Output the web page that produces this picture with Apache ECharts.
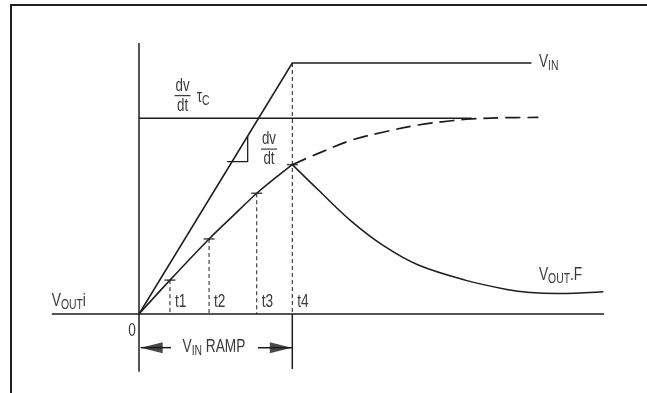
<!DOCTYPE html>
<html>
<head>
<meta charset="utf-8">
<script src="https://cdn.jsdelivr.net/npm/echarts@6/dist/echarts.min.js"></script>
<style>
  html, body { margin: 0; padding: 0; background: #fff; }
  #chart { width: 647px; height: 393px; }
</style>
</head>
<body>
<div id="chart"></div>
<script>
// time in units where the ramp ends at t4 = 10, voltage in units where VIN = 10
const tickLabels = ['t1', 't2', 't3', 't4'];
const tickTimes = [2.02, 4.57, 7.68, 10];
const tickVout = [1.35, 2.99, 4.81, 5.95];

const vinT = [0, 10, 25.6];
const vinV = [0, 10, 10];

const riseT = [0, 2.02, 4.57, 6.2, 7.68, 8.87, 10];
const riseV = [0, 1.35, 2.99, 3.95, 4.81, 5.41, 5.95];

const decayT = [10, 11.7, 13.88, 16.05, 18.22, 21.27, 23.99, 25.51, 27.25, 28.77, 30.29];
const decayV = [5.95, 4.94, 3.68, 2.68, 1.95, 1.35, 0.98, 0.86, 0.82, 0.84, 0.89];

const limitT = [10, 11.7, 13.88, 16.05, 18.22, 20.4, 21.7, 23.66, 26.05];
const limitV = [5.95, 6.4, 6.93, 7.26, 7.53, 7.7, 7.77, 7.82, 7.83];

const tauLevel = 7.8;
const tauEnd = 21.7;

const slopeT = [5.75, 7.09, 7.09];
const slopeV = [6.07, 6.07, 7.09];

const xAxisSpan = [-5.69, 30.33];
const yAxisSpan = [10.8, -2.3];
const rampEndDrop = -2.19;
const rampArrowV = -1.34;
const rampArrowLeft = [0.11, 2.09];
const rampArrowRight = [7.76, 9.97];

// layout: where t=0,v=0 sits and how many pixels one unit takes
const OX = 139, OY = 314, PX_T = 15.33, PX_V = 25.1;
const X_MIN = -9, X_MAX = 33, Y_MIN = -3, Y_MAX = 12.5;
const W = 647, H = 393;

const INK = '#1c1c1c';
const TEXT = '#3a3a3a';
const FONT = '"Liberation Sans", Arial, sans-serif';
const NARROW = 0.74; // condensed look of the original lettering
const BIG = 18.5, SMALL = 14;

function zip(a, b) {
  return a.map((v, i) => [v, b[i]]);
}

function solid(data, extra) {
  return Object.assign({
    type: 'line',
    data: data,
    symbol: 'none',
    lineStyle: { color: INK, width: 1.5 },
    silent: true
  }, extra || {});
}

let chart = echarts.init(document.getElementById('chart'));

let series = [
  // axes
  solid([[xAxisSpan[0], 0], [xAxisSpan[1], 0]]),
  solid([[0, yAxisSpan[0]], [0, yAxisSpan[1]]]),
  solid([[10, 0], [10, rampEndDrop]]),
  // dv/dt tau_C level
  solid([[0, tauLevel], [tauEnd, tauLevel]]),
  // VIN
  solid(zip(vinT, vinV)),
  // slope triangle
  solid(zip(slopeT, slopeV), { lineStyle: { color: INK, width: 1.3 } }),
  // VOUT during ramp
  solid(zip(riseT, riseV), { smooth: 0.3 }),
  // VOUT.F decay
  solid(zip(decayT, decayV), { smooth: 0.35 }),
  // dashed continuation
  solid(zip(limitT, limitV), {
    smooth: 0.35,
    lineStyle: { color: INK, width: 1.7, type: [15, 7] }
  }),
  // tick marks on the curve
  {
    type: 'scatter',
    data: zip(tickTimes, tickVout),
    symbol: 'rect',
    symbolSize: [11, 1.5],
    itemStyle: { color: INK },
    silent: true
  },
  // VIN RAMP arrows
  solid([[rampArrowLeft[0], rampArrowV], [rampArrowLeft[1], rampArrowV]]),
  solid([[rampArrowRight[0], rampArrowV], [rampArrowRight[1], rampArrowV]]),
  {
    type: 'scatter',
    silent: true,
    itemStyle: { color: INK },
    data: [
      { value: [rampArrowLeft[0], rampArrowV], symbol: 'path://M0,5L20,0L20,10Z', symbolOffset: [11, 0] },
      { value: [rampArrowRight[1], rampArrowV], symbol: 'path://M0,0L20,5L0,10Z', symbolOffset: [-11, 0] }
    ],
    symbolSize: [22, 11],
    symbolKeepAspect: false
  }
];

// dashed drop lines from each tick to the time axis, t4 from VIN top
tickTimes.forEach((t, i) => {
  let top = i === tickTimes.length - 1 ? vinV[1] : tickVout[i];
  series.push(solid([[t, top], [t, 0]], {
    lineStyle: { color: INK, width: 1, type: [4, 3] }
  }));
});

chart.setOption({
  animation: false,
  backgroundColor: '#fff',
  grid: {
    left: OX + X_MIN * PX_T,
    right: W - (OX + X_MAX * PX_T),
    top: OY - Y_MAX * PX_V,
    bottom: H - (OY - Y_MIN * PX_V)
  },
  xAxis: { type: 'value', min: X_MIN, max: X_MAX, show: false },
  yAxis: { type: 'value', min: Y_MIN, max: Y_MAX, show: false },
  series: series
});

function rich(big, small) {
  return {
    n: { fontSize: big, fontFamily: FONT, fill: TEXT, verticalAlign: 'bottom', padding: [0, 0, 2, 0] },
    s: { fontSize: small, fontFamily: FONT, fill: TEXT, verticalAlign: 'bottom' }
  };
}

function textEl(pos, text, align, big, small) {
  return {
    type: 'text',
    x: pos[0],
    y: pos[1],
    scaleX: NARROW,
    silent: true,
    style: {
      text: text,
      fill: TEXT,
      fontSize: big,
      fontFamily: FONT,
      align: align,
      verticalAlign: 'middle',
      rich: rich(big, small)
    }
  };
}

const px = p => chart.convertToPixel('grid', p);

let graphics = [
  // frame
  {
    type: 'polyline',
    silent: true,
    shape: { points: [[11, H], [11, 5], [W, 5]] },
    style: { stroke: '#222', lineWidth: 2, fill: null }
  }
];

const labels = [
  { at: [26.09, 10.0], text: '{n|V}{s|IN}', align: 'left' },
  { at: [-5.69, 0.48], text: '{n|V}{s|OUT}{n|i}', align: 'left' },
  { at: [26.09, 1.51], text: '{n|V}{s|OUT}{n|.F}', align: 'left' },
  { at: [4.89, rampArrowV], text: '{n|V}{s|IN}{n| RAMP}', align: 'center' },
  { at: [3.76, 8.62], text: '{n|τ}{s|C}', align: 'left' },
  { at: [-0.46, -0.72], text: '{n|0}', align: 'center' }
];
labels.forEach(l => graphics.push(textEl(px(l.at), l.text, l.align, BIG, SMALL)));

tickLabels.forEach((name, i) => {
  let p = px([tickTimes[i], 0.44]);
  graphics.push(textEl([p[0] + 5, p[1]], '{n|' + name + '}', 'left', BIG, SMALL));
});

// dv/dt fractions
[[2.84, 8.7], [8.48, 6.57]].forEach(at => {
  let p = px(at);
  graphics.push({
    type: 'line', silent: true,
    shape: { x1: p[0] - 8, y1: p[1], x2: p[0] + 8, y2: p[1] },
    style: { stroke: TEXT, lineWidth: 1.2 }
  });
  graphics.push(textEl([p[0], p[1] - 9], '{n|dv}', 'center', 18, SMALL));
  graphics.push(textEl([p[0], p[1] + 11], '{n|dt}', 'center', 18, SMALL));
});

chart.setOption({ graphic: graphics });
</script>
</body>
</html>
